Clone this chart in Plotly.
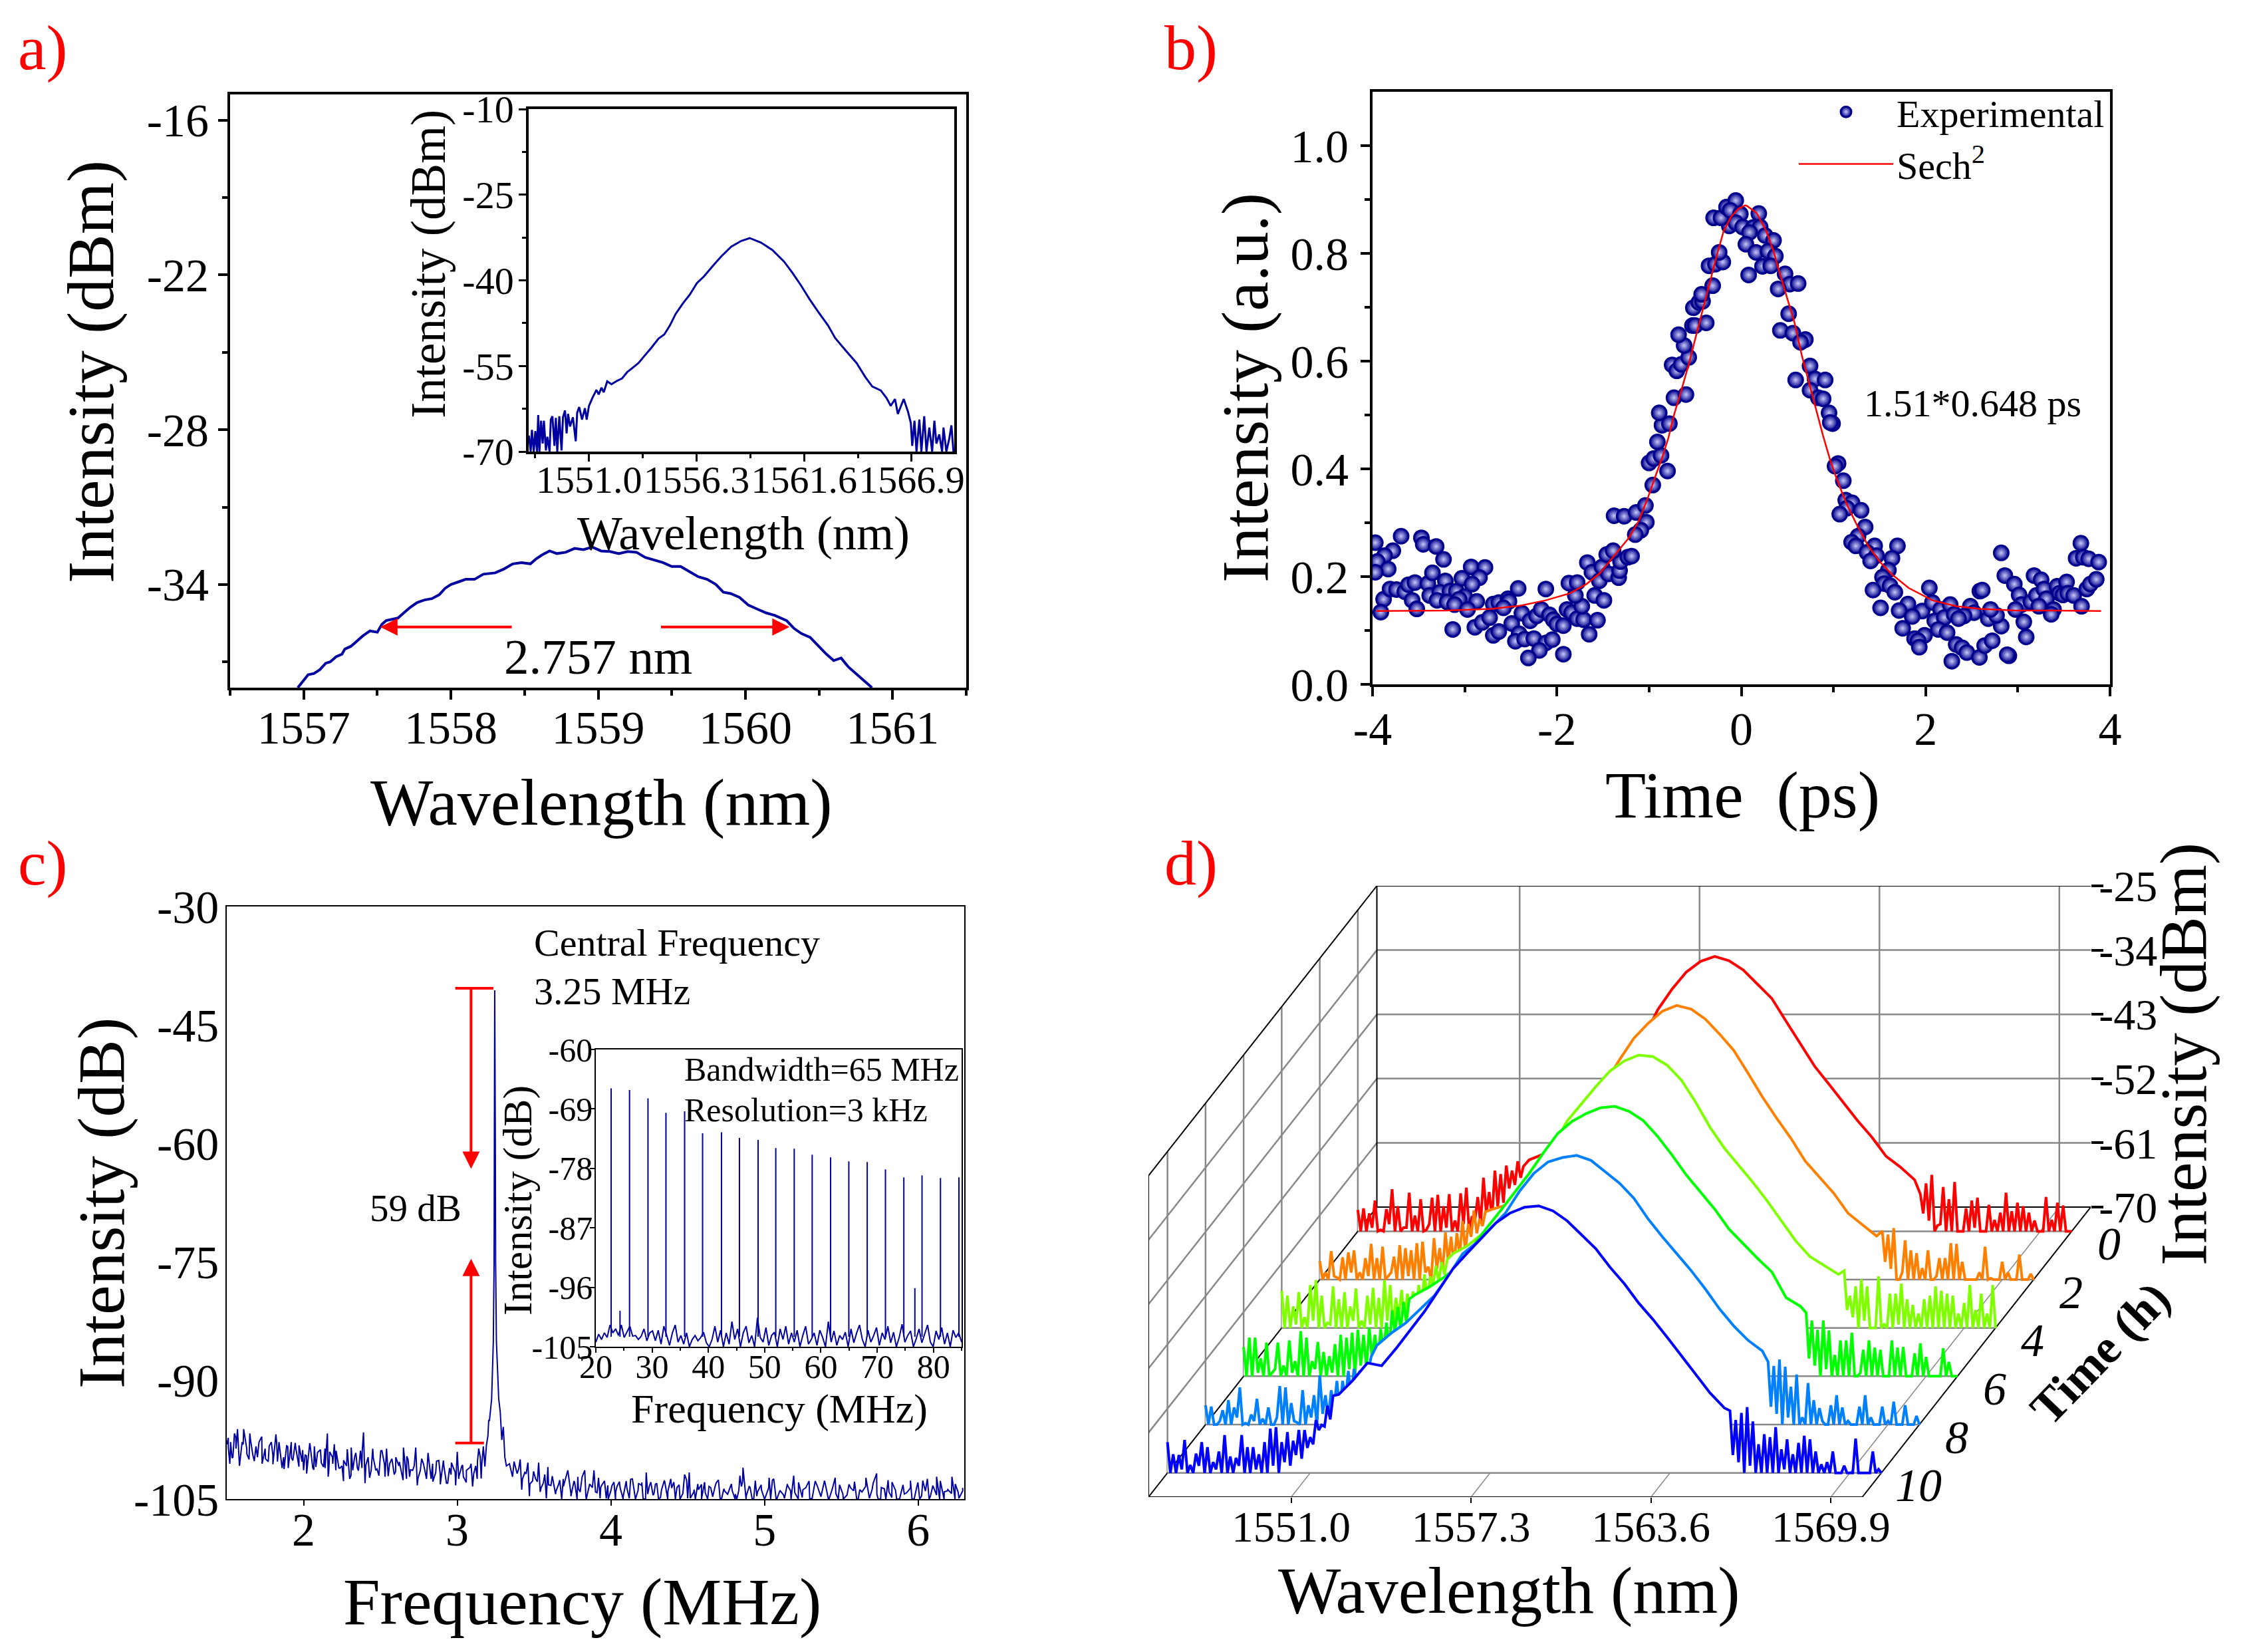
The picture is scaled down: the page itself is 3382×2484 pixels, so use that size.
import numpy as np
import plotly.graph_objects as go

W, H = 3382, 2484
FONT = "Liberation Serif"
NAVY = "#0000a0"

# panel a, main spectrum
a_wl = [1556.96, 1557.0, 1557.03, 1557.07, 1557.11, 1557.15, 1557.18, 1557.22, 1557.26, 1557.28, 1557.32, 1557.35,
        1557.4, 1557.45, 1557.5, 1557.53, 1557.56, 1557.6, 1557.64, 1557.68, 1557.72, 1557.77, 1557.82, 1557.87,
        1557.92, 1557.96, 1558.0, 1558.05, 1558.1, 1558.16, 1558.22, 1558.3, 1558.36, 1558.42, 1558.48, 1558.54,
        1558.58, 1558.62, 1558.67, 1558.72, 1558.78, 1558.84, 1558.9, 1558.96, 1559.02, 1559.08, 1559.14, 1559.2,
        1559.26, 1559.32, 1559.38, 1559.44, 1559.5, 1559.56, 1559.62, 1559.68, 1559.74, 1559.8, 1559.85, 1559.9,
        1559.96, 1560.02, 1560.08, 1560.14, 1560.2, 1560.28, 1560.33, 1560.38, 1560.44, 1560.5, 1560.55, 1560.6,
        1560.65, 1560.7, 1560.76, 1560.82, 1560.86]
a_int = [-38.0, -37.7, -37.5, -37.45, -37.3, -37.05, -37.0, -36.8, -36.7, -36.5, -36.4, -36.25,
         -36.0, -35.8, -35.85, -35.55, -35.4, -35.35, -35.3, -35.1, -34.9, -34.7, -34.6, -34.55,
         -34.4, -34.15, -34.0, -33.9, -33.8, -33.8, -33.6, -33.55, -33.4, -33.2, -33.15, -33.2,
         -33.0, -32.85, -32.7, -32.8, -32.75, -32.6, -32.65, -32.55, -32.7, -32.72, -32.8, -32.72,
         -32.75, -32.95, -33.05, -33.15, -33.3, -33.3, -33.5, -33.7, -33.8, -34.0, -34.3, -34.35,
         -34.5, -34.8, -34.95, -35.1, -35.2, -35.4, -35.7, -35.9, -36.05, -36.4, -36.7, -36.95,
         -36.85, -37.2, -37.5, -37.8, -38.0]

# panel a, inset spectrum
ai_wl = [1548.04, 1548.13, 1548.19, 1548.28, 1548.36, 1548.44, 1548.50, 1548.56, 1548.64, 1548.72, 1548.78,
         1548.88, 1548.95, 1549.06, 1549.12, 1549.20, 1549.30, 1549.37, 1549.44, 1549.54, 1549.65, 1549.72,
         1549.82, 1549.90, 1549.97, 1550.07, 1550.21, 1550.35, 1550.42, 1550.52, 1550.66, 1550.80, 1550.89,
         1551.0, 1551.17, 1551.37, 1551.48, 1551.62, 1551.73, 1551.90, 1552.11, 1552.39, 1552.63, 1552.88,
         1553.16, 1553.44, 1553.72, 1554.08, 1554.43, 1554.71, 1554.99, 1555.27, 1555.62, 1555.97, 1556.32,
         1556.67, 1557.10, 1557.52, 1558.01, 1558.50, 1558.92, 1559.48, 1560.04, 1560.61, 1561.03, 1561.45,
         1561.87, 1562.29, 1562.78, 1563.13, 1563.70, 1564.19, 1564.61, 1564.96, 1565.38, 1565.66, 1565.87,
         1566.08, 1566.22, 1566.51, 1566.72, 1566.86, 1566.93, 1567.04, 1567.14, 1567.28, 1567.38, 1567.52,
         1567.63, 1567.77, 1567.91, 1568.02, 1568.12, 1568.26, 1568.40, 1568.47, 1568.61, 1568.75, 1568.86,
         1568.96]
ai_int = [-67.2, -70, -66.2, -70, -66.4, -70, -63.6, -70, -64.6, -68.6, -64.6,
          -69.8, -67.4, -70, -64.4, -63.8, -69.0, -64.1, -70, -63.8, -69.8, -64.0,
          -62.8, -66.8, -63.4, -65.6, -64.0, -68.2, -63.2, -62.2, -64.4, -62.4, -64.4,
          -62.0, -60.6, -59.2, -60.0, -58.8, -59.6, -57.7, -58.2, -57.6, -57.2, -56.1,
          -55.3, -54.5, -53.3, -51.8, -50.2, -49.5, -47.9, -45.9, -44.1, -42.5, -40.5,
          -39.3, -37.5, -35.8, -34.1, -33.1, -32.6, -33.4, -34.7, -36.7, -38.7, -40.9,
          -43.3, -45.5, -47.9, -50.1, -52.5, -54.5, -56.9, -58.6, -59.3, -60.6, -62.0,
          -60.8, -63.4, -60.8, -63.0, -65.0, -69.0, -64.6, -70, -64.4, -70, -63.8,
          -70, -65.8, -70, -64.6, -68.6, -67.0, -70, -65.8, -70, -67.8, -65.4,
          -70]

# panel b, autocorrelation points
b_time = [-3.97, -3.69, -3.47, -3.45, -3.31, -3.23, -3.78, -3.87, -3.95, -3.83, -3.97, -3.88, -3.81, -3.74, -3.65,
          -3.61, -3.54, -3.40, -3.35, -3.21, -3.38, -3.27, -3.30, -3.57, -3.52, -3.91, -3.16, -3.09, -3.03, -2.93,
          -2.78, -2.84, -2.92, -3.00, -3.06, -3.19, -3.11, -2.87, -2.97, -2.69, -2.63, -2.53, -2.52, -2.58, -2.42,
          -2.12, -3.13, -2.89, -2.81, -2.73, -2.69, -2.63, -2.49, -2.38, -2.41, -2.45, -2.35, -2.25, -2.29, -2.22,
          -2.17, -2.08, -2.04, -2.00, -1.93, -2.12, -2.05, -2.19, -2.31, -1.93, -1.89, -1.84, -1.78, -1.71, -1.56,
          -1.65, -1.73, -1.80, -1.87, -1.78, -1.59, -1.49, -1.67, -1.62, -1.54, -1.51, -1.44, -1.33, -1.32, -1.31,
          -1.46, -1.39, -1.23, -1.19, -1.38, -1.27, -1.14, -1.04, -1.03, -1.09, -1.15, -0.96, -0.80, -1.00, -0.95,
          -0.87, -0.91, -0.86, -0.78, -0.89, -0.73, -0.60, -0.75, -0.70, -0.65, -0.57, -0.62, -0.68, -0.53, -0.50,
          -0.38, -0.52, -0.46, -0.42, -0.43, -0.31, -0.35, -0.28, -0.20, -0.24, -0.13, -0.30, -0.22, -0.16, -0.06,
          -0.12, -0.01, -0.06, 0.015,
          0.19, 0.13, 0.205, 0.09, 0.26, 0.35, 0.05, 0.16, 0.29, 0.37, 0.23, 0.32, 0.08, 0.475, 0.527, 0.617, 0.40,
          0.514, 0.424, 0.56, 0.695, 0.643, 0.746, 0.59, 0.80, 0.91, 0.746, 0.836, 0.888, 0.952, 0.99, 0.965, 1.05,
          1.017, 1.107, 1.133, 1.202, 1.145, 1.30, 1.068, 1.344, 1.267, 1.197, 1.243, 1.447, 1.694, 1.364, 1.467,
          1.635, 1.403, 1.596, 1.532, 1.55, 1.614, 1.666, 1.429, 1.511, 2.04, 1.808, 1.712, 1.962, 1.854, 2.073,
          2.163, 2.266, 2.099, 2.202, 2.31, 1.751, 1.988, 2.137, 2.233, 1.88, 1.918, 1.931, 2.331, 2.395, 2.447,
          2.284, 2.583, 2.64, 2.722, 2.903, 2.885, 3.091, 2.82, 3.065, 2.679, 2.769, 2.588, 2.614, 2.485, 2.524,
          2.416, 2.357, 2.704, 2.82, 2.859, 2.962, 3.014, 3.04, 2.975, 3.142, 3.176, 3.253, 3.202, 3.284, 3.31,
          3.228, 3.387, 3.362, 3.426, 3.452, 3.529, 3.49, 3.542, 3.606, 3.748, 3.787, 3.851, 3.691, 3.684, 3.632,
          3.71, 3.769, 3.877]
b_int = [.263, .275, .272, .260, .256, .232, .248, .239, .228, .214, .208, .158, .177, .176, .172,
         .185, .189, .187, .207, .192, .165, .171, .156, .156, .140, .134, .173, .173, .197, .218,
         .217, .198, .186, .163, .158, .153, .148, .154, .139, .149, .152, .159, .154, .142, .178,
         .177, .102, .106, .115, .124, .091, .098, .113, .132, .094, .080, .084, .085, .118, .127,
         .139, .129, .120, .112, .109, .077, .083, .063, .049, .056, .139, .133, .122, .120, .119,
         .093, .145, .165, .188, .189, .165, .156, .226, .208, .192, .218, .205, .198, .211, .228,
         .241, .248, .236, .238, .313, .312, .319, .332, .301, .286, .278, .370, .396, .411, .419,
         .425, .450, .481, .484, .504, .532, .538, .593, .582, .594, .607, .629, .649, .666, .666,
         .671, .699, .709, .711, .724, .740, .777, .780, .784, .802, .851, .866, .866, .886, .898,
         .880, .873, .857, .849,
         .874, .848, .849, .839, .833, .824, .817, .802, .804, .795, .776, .777, .760, .762, .743, .744, .734,
         .688, .657, .652, .640, .635, .591, .565, .567, .565, .546, .532, .530, .504, .484, .486, .410,
         .405, .378, .342, .337, .327, .323, .316, .292, .275, .264, .257, .257, .257, .245, .239,
         .234, .229, .212, .199, .187, .183, .171, .175, .142, .179, .149, .137, .136, .126, .152,
         .139, .148, .118, .124, .130, .104, .091, .102, .096, .085, .081, .069, .074, .068, .059,
         .043, .050, .072, .081, .053, .055, .088, .108, .116, .122, .128, .173, .175, .145, .133,
         .127, .122, .139, .244, .202, .186, .166, .148, .139, .153, .202, .194, .165, .177, .159,
         .145, .139, .130, .182, .169, .190, .166, .169, .165, .177, .186, .195, .145, .262, .234,
         .236, .233, .227]

# panel b, sech2 fit
fit_time = [-3.96, -3.2, -2.71, -2.40, -2.12, -1.86, -1.68, -1.53, -1.32, -1.22, -1.11, -1.01, -0.93, -0.86, -0.79,
            -0.73, -0.65, -0.57, -0.50, -0.43, -0.34, -0.26, -0.19, -0.11, -0.03, 0.04, 0.063, 0.166, 0.27, 0.346,
            0.424, 0.50, 0.578, 0.656, 0.733, 0.81, 0.888, 0.965, 1.042, 1.145, 1.248, 1.377, 1.506, 1.635, 1.815,
            2.073, 2.33, 2.589, 2.975, 3.362, 3.903]
fit_int = [.136, .137, .140, .146, .156, .169, .186, .207, .251, .272, .304, .348, .387, .42, .458,
           .50, .546, .594, .641, .688, .747, .800, .842, .868, .883, .889, .888, .875, .842, .806,
           .759, .715, .671, .611, .561, .511, .461, .416, .378, .334, .298, .257, .227, .204, .179,
           .156, .145, .140, .137, .137, .136]

# panel c, RF spectrum
c_freq = [1.50, 1.51, 1.52, 1.525, 1.54, 1.55, 1.56, 1.57, 1.58, 1.60, 1.61, 1.63, 1.645, 1.65, 1.67, 1.69, 1.70, 1.71,
          1.73, 1.75, 1.77, 1.79, 1.80, 1.82, 1.83, 1.84, 1.86, 1.87, 1.89, 1.90, 1.92, 1.93, 1.95, 1.97, 1.99, 2.00,
          2.01, 2.02, 2.04, 2.06, 2.07, 2.08, 2.11, 2.13, 2.14, 2.155, 2.16, 2.17, 2.19, 2.20, 2.21, 2.23, 2.25, 2.26,
          2.28, 2.30, 2.31, 2.32, 2.34, 2.35, 2.37, 2.38, 2.39, 2.40, 2.42, 2.44, 2.45, 2.47, 2.49, 2.51, 2.53, 2.54,
          2.56, 2.59, 2.60, 2.62, 2.64, 2.65, 2.67, 2.68, 2.69, 2.71, 2.73, 2.74, 2.76, 2.78, 2.80, 2.81, 2.83, 2.84,
          2.86, 2.88, 2.89, 2.91, 2.93, 2.95, 2.96, 2.99, 3.00, 3.01, 3.03, 3.04, 3.06, 3.09, 3.10, 3.12, 3.13, 3.14,
          3.15, 3.16, 3.17, 3.19, 3.20, 3.205, 3.21, 3.224, 3.235, 3.24, 3.242, 3.244, 3.248, 3.25, 3.255, 3.27,
          3.28, 3.29, 3.30, 3.305, 3.31, 3.32, 3.34, 3.36, 3.37, 3.39, 3.41, 3.42, 3.44, 3.46, 3.47, 3.49, 3.51, 3.53,
          3.54, 3.56, 3.58, 3.59, 3.61, 3.64, 3.66, 3.68, 3.69, 3.72, 3.74, 3.76, 3.78, 3.785, 3.80, 3.83, 3.84, 3.86,
          3.88, 3.89, 3.90, 3.92, 3.93, 3.94, 3.96, 3.97, 3.98, 4.00, 4.02, 4.03, 4.04, 4.06, 4.08, 4.10, 4.12, 4.14,
          4.16, 4.18, 4.20, 4.21, 4.23, 4.24, 4.26, 4.28, 4.29, 4.31, 4.33, 4.35, 4.37, 4.39, 4.41, 4.43, 4.45, 4.48,
          4.50, 4.51, 4.54, 4.55, 4.57, 4.59, 4.61, 4.63, 4.65, 4.68, 4.70, 4.72, 4.74, 4.76, 4.79, 4.81, 4.82, 4.84,
          4.85, 4.86, 4.88, 4.90, 4.92, 4.94, 4.95, 4.98, 5.00, 5.03, 5.04, 5.06, 5.08, 5.10, 5.13, 5.15, 5.17, 5.19,
          5.22, 5.25, 5.27, 5.29, 5.31, 5.33, 5.36, 5.39, 5.42, 5.44, 5.46, 5.48, 5.51, 5.55, 5.58, 5.60, 5.62, 5.66,
          5.68, 5.70, 5.73, 5.74, 5.76, 5.79, 5.81, 5.83, 5.86, 5.88, 5.91, 5.95, 5.96, 5.99, 6.01, 6.03, 6.06, 6.08,
          6.12, 6.14, 6.17, 6.19, 6.22, 6.24, 6.26, 6.29]
c_int = [-98.07, -97.25, -100.53, -97.79, -99.71, -96.70, -98.62, -96.15, -99.71, -97.79, -96.15, -98.62, -99.99, -96.70, -99.44, -98.34, -99.71, -97.79,
         -100.53, -98.62, -100.26, -97.79, -99.44, -96.83, -100.26, -97.79, -101.08, -99.71, -98.20, -101.08, -97.79, -100.12, -98.62, -98.20, -100.26, -101.36,
         -99.44, -101.77, -97.93, -101.08, -98.34, -100.94, -98.75, -100.94, -101.08, -96.70, -102.18, -99.03, -100.53, -98.07, -101.36, -101.08, -100.81, -102.73,
         -100.81, -102.45, -98.48, -101.36, -99.16, -101.08, -98.89, -101.08, -96.56, -103.00, -99.71, -101.36, -98.62, -101.36, -102.04, -98.89, -102.18, -98.62,
         -100.53, -101.90, -99.71, -100.81, -101.90, -98.48, -102.45, -99.99, -102.18, -101.36, -98.48, -103.27, -101.36, -100.53, -102.45, -99.16, -102.45, -100.53,
         -101.63, -100.12, -103.14, -100.12, -103.00, -101.08, -101.90, -103.27, -99.03, -102.45, -100.81, -102.18, -101.36, -100.53, -103.41, -100.81, -102.45, -98.62,
         -99.71, -100.53, -98.34, -98.20, -96.97, -95.05, -95.05, -92.31, -85, -75, -60, -40.6, -60, -75, -85, -92.31,
         -93.96, -97.52, -95.88, -98.34, -99.71, -100.81, -100.53, -102.18, -100.26, -101.77, -99.99, -103.82, -101.63, -100.40, -104.64, -102.73, -102.45, -100.40,
         -104.10, -103.00, -104.92, -100.94, -103.27, -104.37, -103.14, -105, -102.45, -101.36, -104.64, -102.73, -105, -102.18, -104.10, -101.36, -105, -103.27,
         -103.55, -101.36, -104.10, -102.31, -104.92, -103.27, -103, -104.92, -103.27, -103.96, -102.86, -105, -103.41, -103.55, -105, -102.73, -104.92, -102.45,
         -105, -103, -103.27, -105, -101.63, -104.37, -102.86, -104.37, -103.14, -105, -103.82, -102.73, -105, -102.45, -102.86, -103.55, -105, -101.90,
         -104.92, -101.63, -104.10, -105, -103.82, -103.14, -102.86, -105, -103.55, -103.27, -102.59, -105, -103.96, -104.37, -103.96, -104.37, -105, -102.04,
         -103.41, -101.03, -105, -103.41, -105, -102.67, -104.64, -103.82, -105, -102.31, -105, -102.45, -105, -103.96, -104.92, -103.27, -103.96, -102.04,
         -105, -103.82, -103.55, -102.73, -104.92, -102.73, -104.37, -102.73, -105, -103.82, -102.31, -105, -104.37, -103.14, -103.96, -105, -103.82, -102.31,
         -104.78, -103.82, -101.77, -105, -103.55, -105, -104.10, -102.86, -105, -104.92, -104.37, -102.67, -105, -103.55, -105, -102.67, -102.45, -104.64,
         -102.18, -105, -104.10, -103.96, -102.18, -105, -104.10, -103.96]

# panel c, more samples of the noise on either side of the line
c_more_left = [-98.5, -99.8, -97.2, -100.8, -98.1, -99.3, -97.6, -100.2, -98.9, -97.1, -99.9, -98.3, -100.6, -97.8,
               -99.2, -101.2, -98.4, -99.8, -97.9, -100.9, -98.8, -99.5, -98.2, -101.3, -99.1, -100.4, -98.6, -101.6,
               -99.7, -98.9, -101.1, -100.1, -98.7, -102, -99.6, -101.4, -99, -100.7, -102.3, -99.8, -101.2, -98.9,
               -100.6, -102.1, -99.9, -101.5, -100.3, -102.6, -99.6, -101.3, -100.8, -102.4, -99.9, -101.7, -100.5,
               -102.8, -100.2, -101.9, -100.9, -103, -100.4, -101.6, -102.2, -100.7, -102.9, -101, -101.8, -100.3,
               -102.4, -100.9]
c_more_right = [-101.2, -102.5, -101.8, -103.1, -101.5, -102.8, -103.6, -101.9, -103.2, -102.1, -104, -102.6, -103.4,
                -101.8, -104.3, -102.9, -103.7, -102.2, -104.6, -103.1, -102.4, -104.2, -103.5, -102.7, -105, -103.3,
                -104.1, -102.8, -104.7, -103.6, -102.5, -104.4, -103.9, -102.9, -105, -103.4, -104.5, -103, -104.8,
                -102.7, -104, -103.6, -105, -103.2, -104.3, -102.6, -104.9, -103.8, -103.1, -105, -104.2, -103.4,
                -104.7, -102.9, -105, -103.7, -104.4, -103.1, -105, -103.9, -102.8, -104.6, -103.5, -105, -104.1,
                -103.2, -104.9, -103.6, -102.6, -105, -103.9, -104.5, -103.1, -105, -104.2, -102.9, -104.8, -103.5,
                -105, -104, -103.3, -104.7, -102.7, -105, -103.8, -104.3, -103.2, -105, -104.5, -103.6, -102.8, -105,
                -104.1, -103.4, -104.9, -103, -104.4, -105, -103.7, -102.6, -104.8, -103.9, -105, -103.2, -104.2,
                -103.6, -105, -102.9, -104.6, -104, -105, -103.3, -104.5, -102.7, -105, -103.8, -104.3, -103.1, -104.9,
                -103.6]

# panel c, inset: comb lines and noise floor
rf_peak_freq = [22.72, 25.99, 29.27, 32.46, 35.78, 38.97, 42.33, 45.52, 48.84, 51.98, 55.26, 58.45, 61.72, 64.96,
                68.23, 71.47, 74.74, 77.97, 81.25, 84.53, 24.3, 76.7]
rf_peak_top = [-65.89, -66.13, -67.41, -69.60, -69.36, -72.69, -72.53, -73.40, -73.70, -74.92, -75.02, -75.93,
               -76.33, -76.94, -77.04, -78.15, -79.36, -79.06, -79.46, -79.36, -99.56, -96.13]
rf_floor = [-104.3, -103.1, -103.9, -102.9, -103.6, -101.7, -102.9, -102.3, -103.3, -101.7, -103.6, -102.8, -101.9,
            -103.4, -103.3, -103.9, -103.4, -102.3, -104.1, -102.9, -102.6, -104.1, -102.5, -104.6, -101.9, -103.3,
            -104.8, -102.9, -101.7, -104.3, -103.3, -104.6, -102.9, -105, -103.9, -103.3, -104.1, -103.6, -102.8,
            -104.4, -105, -103.9, -101.9, -104.3, -102.5, -105, -102.9, -104.6, -101.2, -103.9, -102.3, -105, -102.9,
            -101.9, -104.4, -103.3, -105, -100.6, -103.6, -104.3, -102.1, -104.8, -103.3, -102.8, -105, -102.3,
            -103.9, -101.9, -104.6, -102.9, -104.3, -102.5, -105, -103.3, -101.9, -104.6, -103.9, -102.9, -104.8,
            -102.5, -103.6, -105, -101.2, -104.3, -102.6, -104.8, -103.3, -103.9, -102.8, -105, -102.3, -104.4,
            -102.9, -101.7, -103.9, -105, -102.5, -104.3, -103.3, -102.1, -104.8, -102.9, -103.9, -101.9, -104.4,
            -102.8, -105, -103.6, -101.6, -104.3, -103.3, -102.6, -105, -103.8, -102.3, -104.4, -103.1, -101.7,
            -104.3, -105, -102.6, -103.9, -102.1, -104.6, -102.9, -105, -102.5, -103.6, -102.9, -104.3]

# panel d, waterfall: wavelength samples shared by the six spectra
d_times = [0, 2, 4, 6, 8, 10]
d_colors = ["#ff0000", "#ff8000", "#80ff00", "#00ff00", "#0080ff", "#0000ff"]
d_wl_left = np.arange(1546.0, 1551.85, 0.1)
d_wl_body = np.arange(1552.0, 1565.6, 0.5)
d_wl_right = np.append(np.arange(1565.7, 1570.95, 0.1), 1571.0)

# troughs between the noise spikes, left and right of the pulse (they rest on the analyser floor)
d_dip_left = [-70, -70, -69.5, -70, -70, -69, -70, -70, -69.5, -70, -70, -70, -69, -70, -70, -69.5, -70, -70, -69,
              -70, -68.5, -69, -67.5, -68, -66.5, -66, -64, -63.5, -62.5]
d_dip_right = [-67.5, -68.5, -70, -69, -70, -70, -70, -70, -70, -69.5, -70, -70, -70, -70, -70, -70, -70, -70, -70,
               -70, -70, -70, -70, -70, -70, -70]

d_red = [-67, -66.8, -67.5, -65.7, -69.8, -66.9, -64.1, -66.5, -69.5, -64.6, -67.8, -65.5, -69.8, -65.3, -64.9, -66.5,
         -64.8, -68.5, -64.7, -63.9, -67.9, -65.2, -62.5, -64.5, -61.5, -62, -60.8, -61.5, -60.2, -60.9,
         -60.0, -59.2, -57.9, -56.3, -54.3, -52.3, -49.6, -46.5, -43.0, -39.0, -36.1, -33.7, -32.2, -31.5, -32.1, -33.4,
         -35.4, -37.4, -40.6, -43.7, -46.9, -49.4, -51.9, -54.5, -56.8, -59.5, -61.0, -62.8,
         -64.8, -63.3, -62.1, -69.2, -63.8, -65.5, -63.1, -70, -66.8, -65.7, -65.3, -70, -66.3, -68.4, -67.4, -64.6,
         -67.2, -66, -66.5, -67.4, -68.5, -70, -65.2, -68.4, -66, -66.4, -70, -70]
d_orange = [-67.4, -69, -66, -69.7, -66.9, -66.2, -65.9, -69, -67, -65, -67, -65.4, -69.5, -66.8, -65.2, -65.6,
            -65.9, -64.9, -64.7, -68.2, -64.2, -65.6, -63.4, -64, -63.5, -61.8, -62.2, -60.3, -61.5, -60.5,
            -60.2, -59.6, -57.6, -55.6, -53.6, -51.5, -48.9, -45.9, -42.4, -39.2, -36.2, -34.1, -32.4, -31.6, -32.1, -33.5,
            -35.6, -37.9, -41.1, -44.4, -47.4, -50.2, -53.4, -55.6, -57.9, -60.7, -62.3, -63.9,
            -63.2, -63.7, -62.8, -70, -64.5, -65.9, -66.3, -68.4, -65.9, -70, -67, -67, -64.9, -65, -67.5, -70,
            -70, -69, -65.4, -69.8, -70, -67.5, -69, -70, -66.5, -70, -69.2, -70]
d_lime = [-64.8, -65.5, -67, -65, -68.5, -64, -63.3, -65.5, -69.3, -64.2, -66, -65, -67, -64.5, -69, -65.5,
          -64.4, -65.8, -63.3, -64, -65.8, -64.7, -65.2, -64.9, -64, -62.5, -62.8, -61.3, -60.8, -60.4,
          -59.6, -58.5, -56.9, -54.8, -52.2, -49.6, -47, -44.6, -41, -38.6, -36.2, -34, -32.6, -31.8, -32, -33.2,
          -35.3, -38.4, -41.9, -44.8, -47.2, -49.6, -52.2, -55, -57.8, -60, -61.3, -62.5,
          -62, -65.5, -64.2, -63.2, -64.2, -70, -62.8, -69.5, -65.2, -65.2, -63.8, -66, -66.8, -68, -66, -65.5,
          -64.2, -64.8, -65.2, -65.5, -68, -66.5, -64, -67.5, -65.2, -68, -64, -70]
d_green = [-65.9, -64.6, -64.6, -67.5, -65.3, -69.5, -65.3, -68.5, -65, -67.9, -63.7, -64.6, -67.9, -65.2, -66.6, -67.2,
           -65.5, -64.2, -64.6, -63.9, -63.5, -64.2, -63.2, -64.2, -63.4, -62.5, -60.8, -60.3, -59.6, -59.2,
           -58.6, -57.5, -56.2, -54.6, -51.9, -49.3, -46.8, -44.2, -41.6, -38.7, -36, -34.3, -33.2, -32.4, -32.2, -32.9,
           -34.2, -36.4, -39, -41.8, -44.2, -46.6, -49.4, -51.5, -53.5, -55.4, -59, -60.2,
           -61.1, -62.2, -63.5, -62.2, -63.6, -67, -65, -65, -63.9, -70, -66.3, -65, -66, -66.3, -70, -65,
           -66, -65.9, -70, -66.8, -65.4, -67.3, -70, -70, -66.1, -68, -70, -70]
d_azure = [-67.3, -67.5, -70, -68, -66.6, -67.6, -64.8, -69.8, -68.6, -66.4, -69.2, -67.6, -70, -64.6, -64.8, -67,
           -69.7, -65.2, -67.3, -65.9, -63.1, -65.9, -65.2, -63.9, -63.9, -62.5, -62.2, -62.5, -61.9, -60.5,
           -58.9, -57.2, -55.8, -53.9, -52, -49.2, -46.1, -44.5, -42.5, -40.4, -37.3, -34.8, -33.2, -32.6, -32.3, -33,
           -34.6, -36.2, -38.3, -41.2, -43.7, -46, -48.4, -51, -53.8, -56.2, -58.2, -59.7,
           -61.2, -61.8, -60.9, -61.9, -64.7, -63, -69, -64.2, -66.6, -67.7, -70, -67.3, -65.9, -67.6, -69.5, -70,
           -67.5, -65.9, -69, -70, -67.5, -69.5, -66.8, -70, -67.3, -70, -68.8, -70]
d_blue = [-65.7, -67.4, -67.5, -65.4, -68.9, -67.3, -65.7, -66.4, -68.5, -67, -64.7, -67.7, -67.9, -64.7, -66.4, -66.4,
          -67.4, -65.7, -63.8, -63.6, -65.7, -64.3, -65.5, -64, -64, -65, -62.6, -63.3, -60.6, -59.2,
          -59, -57, -54.6, -55, -52.6, -50, -47.4, -44.4, -41.4, -39.2, -37.1, -35, -33.6, -32.8, -32.6, -33.3,
          -34.7, -36.6, -38.6, -41.2, -43.5, -46.2, -48.5, -51, -53.6, -56.2, -58.8, -60.9,
          -61.3, -62.6, -61.6, -60.8, -62.8, -66, -64.6, -65, -63.6, -66.7, -65.3, -67.4, -65.8, -64.8, -65.3, -67,
          -68.8, -68.5, -67, -70, -69, -70, -65.2, -70, -70, -67, -69.5, -70]
d_series = [d_red, d_orange, d_lime, d_green, d_azure, d_blue]

d_wl_ticks = [1551.0, 1557.3, 1563.6, 1569.9]
d_int_ticks = [-25, -34, -43, -52, -61, -70]

# oblique projection of the waterfall box: depth runs from t=-1 (back) to t=11 (front)
D_DX = 8.0 / 12
D_DY = 3.384


def proj(wl, t, i):
    return np.asarray(wl, dtype=float) + (11 - t) * D_DX, np.asarray(i, dtype=float) - (t + 1) * D_DY


def dx(l, r):
    return [l / W, r / W]


def dy(t, b):
    return [1 - b / H, 1 - t / H]


def axis(dom, rng, vals, texts, size, anchor, lw=4, tlen=14, tw=4, minor=None, mirror=True, standoff=4):
    d = dict(domain=dom, range=rng, tickmode="array", tickvals=vals, ticktext=texts, anchor=anchor, automargin=False,
             tickangle=0, tickfont=dict(size=size, family=FONT, color="black"), showgrid=False, zeroline=False,
             showline=True, linecolor="black", linewidth=lw, mirror=mirror, ticks="outside",
             ticklen=tlen, tickwidth=tw, tickcolor="black", ticklabelstandoff=standoff)
    if minor is not None:
        d["minor"] = dict(tickvals=minor, ticks="outside", ticklen=tlen * 0.6, tickwidth=tw, tickcolor="black")
    return d


fig = go.Figure()

# panel a
fig.add_trace(go.Scatter(x=a_wl, y=a_int, xaxis="x", yaxis="y", mode="lines", line=dict(color=NAVY, width=4),
                         showlegend=False))
fig.add_trace(go.Scatter(x=ai_wl, y=ai_int, xaxis="x2", yaxis="y2", mode="lines", line=dict(color=NAVY, width=3),
                         showlegend=False))

# panel b
fig.add_trace(go.Scatter(x=b_time, y=b_int, xaxis="x3", yaxis="y3", mode="markers", name="Experimental",
                         marker=dict(size=22, color="#00008c", line=dict(width=3, color="#00008c"),
                                     gradient=dict(type="radial", color="#c8c8f8"))))
fig.add_trace(go.Scatter(x=fit_time, y=fit_int, xaxis="x3", yaxis="y3", mode="lines", name="Sech<sup>2</sup>",
                         line=dict(color="#ff0000", width=2.5)))

# panel c
c_all_freq = np.concatenate([c_freq, np.linspace(1.51, 3.18, len(c_more_left)), np.linspace(3.4, 6.29, len(c_more_right))])
c_all_int = np.concatenate([c_int, c_more_left, c_more_right])
c_order = np.argsort(c_all_freq, kind="stable")
fig.add_trace(go.Scatter(x=c_all_freq[c_order], y=c_all_int[c_order], xaxis="x4", yaxis="y4", mode="lines",
                         line=dict(color=NAVY, width=2), showlegend=False))
rf_floor_freq = np.linspace(20, 85, len(rf_floor))
fig.add_trace(go.Scatter(x=rf_floor_freq, y=rf_floor, xaxis="x5", yaxis="y5", mode="lines",
                         line=dict(color=NAVY, width=2), showlegend=False))
stick_x, stick_y = [], []
for f, top in zip(rf_peak_freq, rf_peak_top):
    stick_x += [f, f, None]
    stick_y += [-103.5, top, None]
fig.add_trace(go.Scatter(x=stick_x, y=stick_y, xaxis="x5", yaxis="y5", mode="lines",
                         line=dict(color=NAVY, width=2), showlegend=False))

# 59 dB bracket in panel c
fig.add_trace(go.Scatter(x=[2.987, 3.235, None, 2.987, 3.174], y=[-40.36, -40.36, None, -97.9, -97.9],
                         xaxis="x4", yaxis="y4", mode="lines", line=dict(color="#ff0000", width=4), showlegend=False))

# panel d, walls and floor
WL0, WL1 = 1546, 1571
gx, gy, fx, fy, kx, ky = [], [], [], [], [], []


def seg(xs, ys, a, b):
    x, y = proj(a[0], a[1], a[2])
    xs += [float(x)]
    ys += [float(y)]
    x, y = proj(b[0], b[1], b[2])
    xs += [float(x), None]
    ys += [float(y), None]


for wl in d_wl_ticks:
    seg(gx, gy, (wl, -1, -70), (wl, -1, -25))
    seg(fx, fy, (wl, -1, -70), (wl, 11, -70))
for i in d_int_ticks[1:-1]:
    seg(gx, gy, (WL0, -1, i), (WL1, -1, i))
for i in d_int_ticks[1:-1]:
    seg(gx, gy, (WL0, -1, i), (WL0, 11, i))
for t in d_times:
    seg(gx, gy, (WL0, t, -70), (WL0, t, -25))
seg(kx, ky, (WL0, -1, -25), (WL1, -1, -25))
seg(kx, ky, (WL0, -1, -25), (WL0, 11, -25))
seg(kx, ky, (WL0, -1, -70), (WL0, -1, -25))
seg(kx, ky, (WL0, 11, -70), (WL0, 11, -25))
seg(kx, ky, (WL0, -1, -70), (WL1, -1, -70))
seg(kx, ky, (WL0, -1, -70), (WL0, 11, -70))
seg(kx, ky, (WL1, -1, -70), (WL1, 11, -70))
seg(kx, ky, (WL0, 11, -70), (WL1, 11, -70))
fig.add_trace(go.Scatter(x=gx, y=gy, xaxis="x6", yaxis="y6", mode="lines", line=dict(color="#888888", width=2.5),
                         showlegend=False))
fig.add_trace(go.Scatter(x=fx, y=fy, xaxis="x6", yaxis="y6", mode="lines", line=dict(color="#888888", width=1.5),
                         showlegend=False))
fig.add_trace(go.Scatter(x=kx, y=ky, xaxis="x6", yaxis="y6", mode="lines", line=dict(color="black", width=2),
                         showlegend=False))


def with_dips(samples, dips):
    # spike, trough, spike, ...
    out = []
    for k, v in enumerate(samples):
        out.append(v)
        if k < len(dips):
            out.append(dips[k])
    return out


# panel d, spectra back to front, each one hides what lies behind it
n_l, n_b = 30, 28
wl_all = np.concatenate([d_wl_left, d_wl_body, d_wl_right])
for t, vals, col in zip(d_times, d_series, d_colors):
    left = with_dips(vals[:n_l], d_dip_left)
    right = with_dips(vals[n_l + n_b:-1], d_dip_right) + [vals[-1]]
    full = left + vals[n_l:n_l + n_b] + right
    xp, yp = proj(wl_all, t, full)
    bx, by = proj([WL1, WL0], t, [-70, -70])
    fig.add_trace(go.Scatter(x=np.concatenate([xp, bx]), y=np.concatenate([yp, by]), xaxis="x6", yaxis="y6",
                             mode="lines", fill="toself", fillcolor="white", line=dict(color="#888888", width=2.5),
                             showlegend=False))
    fig.add_trace(go.Scatter(x=xp, y=yp, xaxis="x6", yaxis="y6", mode="lines", line=dict(color=col, width=4),
                             showlegend=False))

minor_a_x = [1556.5, 1557.5, 1558.5, 1559.5, 1560.5, 1561.5]
layout = dict(
    width=W, height=H, margin=dict(l=0, r=0, t=0, b=0), paper_bgcolor="white", plot_bgcolor="rgba(0,0,0,0)",
    font=dict(family=FONT, color="black"), autosize=False,
    xaxis=axis(dx(346, 1453), [1556.5, 1561.5], [1557, 1558, 1559, 1560, 1561],
               ["1557", "1558", "1559", "1560", "1561"], 70, "y", minor=minor_a_x, standoff=-18),
    yaxis=axis(dy(142, 1034), [-38, -15], [-16, -22, -28, -34], ["-16", "-22", "-28", "-34"], 70, "x",
               minor=[-19, -25, -31, -37], standoff=0),
    xaxis2=axis(dx(795, 1435), [1548.03, 1569.0], [1551.0, 1556.3, 1561.6, 1566.9],
                ["1551.0", "1556.3", "1561.6", "1566.9"], 58, "y2", lw=3.5, tlen=11, tw=3,
                minor=[1548.35, 1553.65, 1558.95, 1564.25], standoff=-22),
    yaxis2=axis(dy(164, 679), [-70, -10], [-10, -25, -40, -55, -70], ["-10", "-25", "-40", "-55", "-70"], 58, "x2",
                lw=3.5, tlen=11, tw=3, minor=[-17.5, -32.5, -47.5, -62.5], standoff=-4),
    xaxis3=axis(dx(2064, 3173), [-4, 4], [-4, -2, 0, 2, 4], ["-4", "-2", "0", "2", "4"], 70, "y3",
                minor=[-3, -1, 1, 3], standoff=-11),
    yaxis3=axis(dy(138, 1029), [0, 1.1], [0, 0.2, 0.4, 0.6, 0.8, 1.0], ["0.0", "0.2", "0.4", "0.6", "0.8", "1.0"],
                70, "x3", minor=[0.1, 0.3, 0.5, 0.7, 0.9]),
    xaxis4=axis(dx(341, 1450), [1.5, 6.3], [2, 3, 4, 5, 6], ["2", "3", "4", "5", "6"], 70, "y4", lw=1.5, tlen=8, tw=1.5,
                standoff=-24),
    yaxis4=axis(dy(1363, 2254), [-105, -30], [-30, -45, -60, -75, -90, -105],
                ["-30", "-45", "-60", "-75", "-90", "-105"], 70, "x4", lw=1.5, tlen=0, tw=0, standoff=-4),
    xaxis5=axis(dx(896, 1446), [20, 85], [20, 30, 40, 50, 60, 70, 80], ["20", "30", "40", "50", "60", "70", "80"],
                50, "y5", lw=1.5, tlen=7, tw=1.5, minor=[25, 35, 45, 55, 65, 75, 85], standoff=-22),
    yaxis5=axis(dy(1578, 2025), [-105, -60], [-60, -69, -78, -87, -96, -105],
                ["-60", "-69", "-78", "-87", "-96", "-105"], 50, "x5", lw=1.5, tlen=7, tw=1.5, standoff=-14),
    xaxis6=dict(domain=dx(1727, 3144), range=[1546, 1579], anchor="y6", tickmode="array", tickvals=d_wl_ticks,
                automargin=False, tickangle=0, ticklabelstandoff=-20,
                ticktext=["1551.0", "1557.3", "1563.6", "1569.9"], showgrid=False, zeroline=False, showline=False,
                ticks="outside", ticklen=8, tickwidth=1.5, tickcolor="black",
                tickfont=dict(size=65, family=FONT, color="black")),
    yaxis6=dict(domain=dy(1332, 2251), range=[-25 - 12 * D_DY - 45, -25], anchor="x6", side="right", automargin=False,
                tickmode="array", tickvals=d_int_ticks, ticktext=[str(v) for v in d_int_ticks], showgrid=False,
                zeroline=False, showline=False, ticks="outside", ticklen=18, tickwidth=4, tickcolor="black",
                ticklabelstandoff=-20, tickfont=dict(size=66, family=FONT, color="black")),
    legend=dict(x=2700 / W, y=1 - 124 / H, xanchor="left", yanchor="top", bgcolor="rgba(0,0,0,0)",
                font=dict(size=58, family=FONT, color="black"), itemwidth=142, itemsizing="trace"),
)
fig.update_layout(**layout)


def label(text, x, y, size, color="black", angle=0, anchor="center"):
    fig.add_annotation(text=text, x=x / W, y=1 - y / H, xref="paper", yref="paper", showarrow=False, xanchor=anchor,
                       yanchor="middle", textangle=angle, font=dict(size=size, family=FONT, color=color))


def note(text, x, y, ax_id, size, anchor="center"):
    fig.add_annotation(text=text, x=x, y=y, xref="x" + ax_id, yref="y" + ax_id, showarrow=False, xanchor=anchor,
                       yanchor="middle", font=dict(size=size, family=FONT, color="black"))


def arrow(x0, y0, x1, y1, ax_id):
    ref = "x" + ax_id if ax_id else "x"
    yref = "y" + ax_id if ax_id else "y"
    fig.add_annotation(x=x1, y=y1, ax=x0, ay=y0, xref=ref, yref=yref, axref=ref, ayref=yref, text="", showarrow=True,
                       arrowhead=2, arrowsize=1.3, arrowwidth=4, arrowcolor="#ff0000", standoff=0)


for txt, x, y in [("a)", 25, 71), ("b)", 1749, 71), ("c)", 25, 1297), ("d)", 1749, 1297)]:
    label(txt, x, y, 96, color="#ff0000", anchor="left")

label("Intensity (dBm)", 136, 559, 100, angle=-90)
label("Wavelength (nm)", 904, 1207, 100)
label("Intensity (dBm)", 644, 397, 73, angle=-90)
label("Wavelength (nm)", 1118, 802, 72)
note("2.757 nm", 1559.0, -36.8, "", 75)
arrow(1558.42, -35.65, 1557.52, -35.65, "")
arrow(1559.42, -35.65, 1560.30, -35.65, "")

label("Intensity (a.u.)", 1873, 583, 100, angle=-90)
label("Time&nbsp; (ps)", 2620, 1195, 100)
note("1.51*0.648 ps", 2.51, 0.522, "3", 58)

label("Intensity (dB)", 152, 1809, 100, angle=-90)
label("Frequency (MHz)", 875, 2408, 100)
note("Central Frequency", 3.49, -34.56, "4", 58, anchor="left")
note("3.25 MHz", 3.49, -40.75, "4", 58, anchor="left")
note("59 dB", 2.73, -68.2, "4", 57)
arrow(3.09, -40.36, 3.09, -63.2, "4")
arrow(3.09, -97.9, 3.09, -74.6, "4")

label("Intensity (dB)", 778, 1805, 62, angle=-90)
label("Frequency (MHz)", 1172, 2118, 62)
note("Bandwidth=65 MHz", 35.5, -63, "5", 50, anchor="left")
note("Resolution=3 kHz", 35.5, -69.2, "5", 50, anchor="left")

label("Wavelength (nm)", 2269, 2391, 100)
label("Intensity (dBm)", 3284, 1585, 100, angle=-90)
label("<b>Time (h)</b>", 3158, 2035, 72, angle=-46)
for t in d_times:
    xp, yp = proj(WL1, t, -70)
    fig.add_annotation(text="<i>%d</i>" % t, x=float(xp), y=float(yp), xref="x6", yref="y6", showarrow=False,
                       xshift=56, yshift=-19, font=dict(size=70, family=FONT, color="black"))

fig.write_html("out.html", config={"displayModeBar": False}, post_script="document.body.style.margin='0';")
